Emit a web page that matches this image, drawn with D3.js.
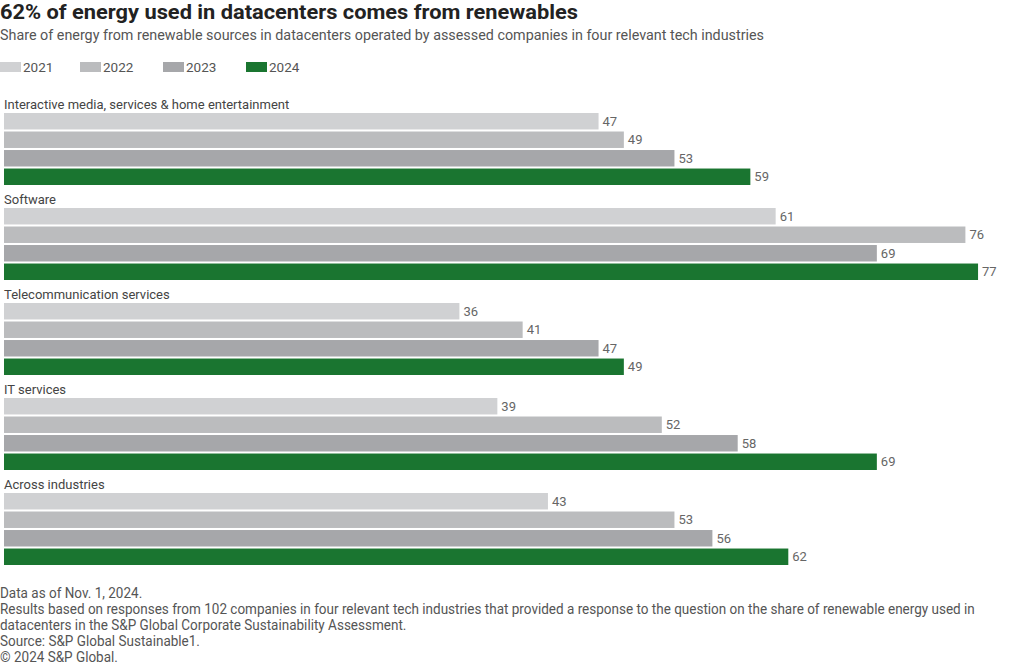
<!DOCTYPE html>
<html><head><meta charset="utf-8">
<script src="https://cdn.jsdelivr.net/npm/d3@7"></script>
<style>
body{margin:0;background:#fff;}
svg{font-family:Roboto,"Noto Sans",sans-serif;}
</style></head>
<body><svg id="c" width="1020" height="665"></svg>
<script>
const categories = ["Interactive media, services & home entertainment","Software","Telecommunication services","IT services","Across industries"];
const years = ["2021","2022","2023","2024"];
const v2021 = [47,61,36,39,43];
const v2022 = [49,76,41,52,53];
const v2023 = [53,69,47,58,56];
const v2024 = [59,77,49,69,62];
const colors = ["#d0d1d3","#bbbcbe","#a6a7aa","#1a7530"];
const series = [v2021,v2022,v2023,v2024];
const footer = ["Data as of Nov. 1, 2024.",
"Results based on responses from 102 companies in four relevant tech industries that provided a response to the question on the share of renewable energy used in",
"datacenters in the S&P Global Corporate Sustainability Assessment.",
"Source: S&P Global Sustainable1.",
"\u00a9 2024 S&P Global."];

const svg = d3.select("#c");
function fitWidth(sel, target){
  sel.attr("textLength", target).attr("lengthAdjust","spacingAndGlyphs");
}
const title = svg.append("text").attr("x",0).attr("y",19).attr("font-size",21).attr("font-weight",700).attr("fill","#222")
  .text("62% of energy used in datacenters comes from renewables");
fitWidth(title, 578);
const sub = svg.append("text").attr("x",0).attr("y",40).attr("font-size",14).attr("fill","#555")
  .text("Share of energy from renewable sources in datacenters operated by assessed companies in four relevant tech industries");
fitWidth(sub, 764);

const legX = [0,80,163,246];
const lg = svg.append("g").selectAll("g").data(years).join("g").attr("transform",(d,i)=>`translate(${legX[i]},62)`);
lg.append("rect").attr("width",21).attr("height",10).attr("fill",(d,i)=>colors[i]);
lg.append("text").attr("x",23).attr("y",10).attr("font-size",13.5).attr("fill","#555").text(d=>d);

const x = d3.scaleLinear().domain([0,80]).range([4,4+80*12.65]);
const gy = d3.scaleBand().domain(categories).range([95,570]).paddingInner(0).paddingOuter(0);
const by = d3.scaleBand().domain(years).range([18,90]).paddingInner(0.11).paddingOuter(0);

const groups = svg.append("g").selectAll("g").data(categories).join("g")
  .attr("transform",d=>`translate(0,${gy(d)})`);
groups.append("text").attr("x",4).attr("y",14).attr("font-size",13).attr("fill","#444").text(d=>d);
groups.each(function(cat,ci){
  const g = d3.select(this);
  years.forEach((yr,yi)=>{
    const val = series[yi][ci];
    g.append("rect").attr("x",x(0)).attr("y",by(yr)).attr("width",x(val)-x(0)).attr("height",by.bandwidth()).attr("fill",colors[yi]);
    g.append("text").attr("x",x(val)+4).attr("y",by(yr)+by.bandwidth()/2+4.5).attr("font-size",13).attr("fill","#666").text(val);
  });
});

const fg = svg.append("g");
const ft = fg.selectAll("text").data(footer).join("text")
  .attr("x",0).attr("y",(d,i)=>598+i*16).attr("font-size",14.5)
  .attr("fill","#555").text(d=>d);
// condense footer horizontally so line 2 spans the reference width
const w2 = ft.nodes()[1].getComputedTextLength();
fg.attr("transform",`scale(${976 / w2},1)`);
</script></body></html>
